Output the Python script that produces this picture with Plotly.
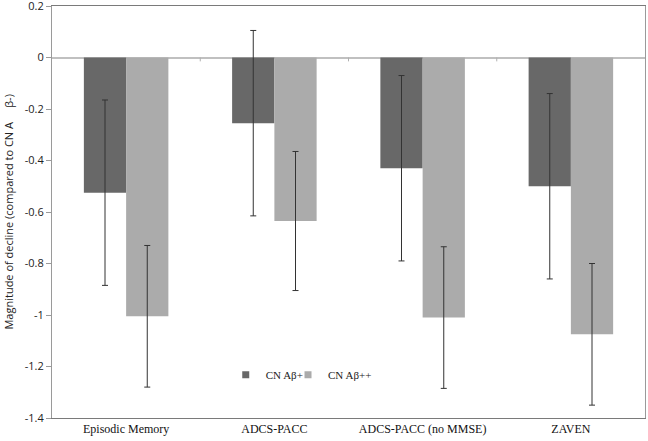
import plotly.graph_objects as go

categories = ["Episodic Memory", "ADCS-PACC", "ADCS-PACC (no MMSE)", "ZAVEN"]
series_names = ["CN Aβ+", "CN Aβ++"]
plus_values = [-0.525, -0.255, -0.43, -0.50]
plus_errors = [0.36, 0.36, 0.36, 0.36]
pp_values = [-1.005, -0.635, -1.01, -1.075]
pp_errors = [0.275, 0.27, 0.275, 0.275]
y_ticks = [0.2, 0, -0.2, -0.4, -0.6, -0.8, -1, -1.2, -1.4]
colors = ["#686868", "#ababab"]

fig = go.Figure()
fig.add_trace(go.Bar(
    x=categories, y=plus_values, name=series_names[0], showlegend=False,
    marker=dict(color=colors[0], line=dict(width=0)),
    error_y=dict(type="data", array=plus_errors, color="#333333", thickness=1, width=3),
))
fig.add_trace(go.Bar(
    x=categories, y=pp_values, name=series_names[1], showlegend=False,
    marker=dict(color=colors[1], line=dict(width=0)),
    error_y=dict(type="data", array=pp_errors, color="#333333", thickness=1, width=3),
))
# legend-only entries with small square swatches
for i, (nm, c) in enumerate(zip(series_names, colors)):
    fig.add_trace(go.Scatter(
        x=[None], y=[None], mode="markers", name=nm,
        marker=dict(symbol="square", size=7, color=c),
        legend="legend" if i == 0 else "legend2",
    ))

# category boundary tick marks on the zero line
for b in [0.5, 1.5, 2.5]:
    fig.add_shape(type="line", xref="x", yref="y", x0=b, x1=b, y0=0, y1=-0.015,
                  line=dict(color="#b0b0b0", width=1))

fig.add_annotation(
    text="Magnitude of decline (compared to CN A     β-)",
    xref="paper", yref="paper", x=-0.075, y=0.5, textangle=-90,
    xanchor="center", yanchor="middle", showarrow=False,
    font=dict(family="Open Sans, Liberation Sans, sans-serif", size=11, color="#222"),
)

legend_font = dict(family="Liberation Serif, DejaVu Serif, serif", size=11, color="#222")
fig.update_layout(
    width=648, height=441,
    margin=dict(l=52, r=3, t=6, b=23),
    paper_bgcolor="white", plot_bgcolor="white",
    barmode="group", bargap=0.43, bargroupgap=0,
    showlegend=True,
    legend=dict(x=0.293, y=0.105, xanchor="left", yanchor="middle", font=legend_font,
                bgcolor="rgba(0,0,0,0)", itemwidth=30),
    legend2=dict(x=0.398, y=0.105, xanchor="left", yanchor="middle", font=legend_font,
                 bgcolor="rgba(0,0,0,0)", itemwidth=30),
    xaxis=dict(
        automargin=False,
        showline=True, linecolor="#7a7a7a", linewidth=1, mirror=True,
        ticks="", showgrid=False,
        tickfont=dict(family="Liberation Serif, DejaVu Serif, serif", size=12, color="#111"),
    ),
    yaxis=dict(
        automargin=False, ticklabeloverflow="allow",
        range=[-1.4, 0.2], tickvals=y_ticks,
        ticktext=["0.2", "0", "-0.2", "-0.4", "-0.6", "-0.8", "-1", "-1.2", "-1.4"],
        showline=True, linecolor="#9a9a9a", linewidth=1, mirror=True,
        ticks="outside", ticklen=5, tickcolor="#9a9a9a",
        showgrid=False, zeroline=True, zerolinecolor="#c0c0c0", zerolinewidth=1.5,
        tickfont=dict(family="Open Sans, Liberation Sans, sans-serif", size=11, color="#222"),
    ),
)

fig.write_html("out.html", config={"displayModeBar": False},
               post_script="document.body.style.margin='0';document.body.style.overflow='hidden';")
